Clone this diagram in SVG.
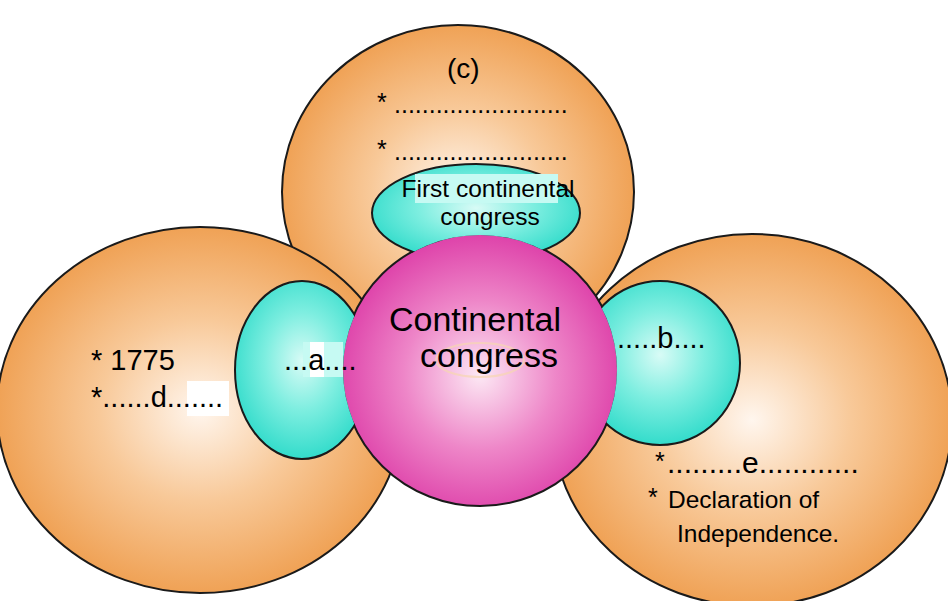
<svg xmlns="http://www.w3.org/2000/svg" width="948" height="601" viewBox="0 0 948 601">
  <defs>
    <radialGradient id="orangeGrad" cx="50%" cy="50%" r="55%">
      <stop offset="0" stop-color="#FFF6EE"/>
      <stop offset="0.45" stop-color="#F8C999"/>
      <stop offset="1" stop-color="#EE9A48"/>
    </radialGradient>
    <radialGradient id="cyanGrad" cx="50%" cy="45%" r="55%">
      <stop offset="0" stop-color="#D8FBF6"/>
      <stop offset="0.5" stop-color="#7EEEE0"/>
      <stop offset="1" stop-color="#33DCCB"/>
    </radialGradient>
    <radialGradient id="magentaGrad" cx="50%" cy="52%" r="55%">
      <stop offset="0" stop-color="#FCE8F4"/>
      <stop offset="0.5" stop-color="#EE86C8"/>
      <stop offset="1" stop-color="#DC3AA6"/>
    </radialGradient>
    <!-- keeps the cyan bubbles behind the central circle -->
    <mask id="behindCore" maskUnits="userSpaceOnUse" x="0" y="0" width="948" height="601">
      <rect width="948" height="601" fill="#fff"/>
      <ellipse cx="480" cy="370" rx="137" ry="135" fill="#000"/>
    </mask>
  </defs>
  <style>
    .outer { fill: url(#orangeGrad); stroke: #1a1a1a; stroke-width: 2; }
    .inner { fill: url(#cyanGrad); stroke: #1a1a1a; stroke-width: 2; }
    .core { fill: url(#magentaGrad); stroke: #1a1a1a; stroke-width: 2; }
    text { font-family: "Liberation Sans", Arial, sans-serif; fill: #000; }
    .t24 { font-size: 24.5px; }
    .t25 { font-size: 25px; }
    .t28 { font-size: 28px; }
    .t29 { font-size: 29px; }
    .t30 { font-size: 30px; }
    .t34 { font-size: 34px; }
  </style>

  <rect width="948" height="601" fill="#ffffff"/>

  <!-- outer orange circles -->
  <g id="node-c">
    <ellipse class="outer" cx="458" cy="192" rx="176" ry="167"/>
    <text class="t28" x="447" y="78">(c)</text>
    <text class="t25" x="377" y="111">*</text>
    <text class="t25" x="394" y="113">.........................</text>
    <text class="t25" x="377" y="158">*</text>
    <text class="t25" x="394" y="160">.........................</text>
  </g>
  <g id="node-left">
    <ellipse class="outer" cx="200" cy="410" rx="203" ry="183"/>
    <rect x="187" y="381" width="42" height="35" fill="#ffffff"/>
    <text class="t29" x="91" y="370">* 1775</text>
    <text class="t29" x="91" y="407">*......d.......</text>
  </g>
  <g id="node-right">
    <ellipse class="outer" cx="752" cy="420" rx="200" ry="186"/>
    <text class="t25" x="655" y="470">*</text>
    <text class="t30" x="667" y="473">.........e............</text>
    <text class="t25" x="648" y="506">*</text>
    <text class="t24" x="668" y="508">Declaration of</text>
    <text class="t24" x="677" y="542">Independence.</text>
  </g>

  <!-- central magenta circle -->
  <g id="node-center">
    <ellipse class="core" cx="480" cy="370" rx="138" ry="136"/>
    <ellipse cx="480" cy="360" rx="44" ry="17" fill="none" stroke="#F6D6B0" stroke-width="2" opacity="0.7"/>
    <text class="t34" x="475" y="331" text-anchor="middle">Continental</text>
    <text class="t34" x="489" y="367" text-anchor="middle">congress</text>
  </g>

  <!-- inner cyan circles, tucked behind the central circle -->
  <g id="node-first">
    <ellipse class="inner" cx="476" cy="213" rx="104" ry="49" mask="url(#behindCore)"/>
    <rect x="415" y="174" width="143" height="29" fill="#C6FAF3"/>
    <text class="t24" x="488" y="197" text-anchor="middle">First continental</text>
    <text class="t24" x="490" y="225" text-anchor="middle">congress</text>
  </g>
  <g id="node-a">
    <ellipse class="inner" cx="302" cy="370" rx="67" ry="89" mask="url(#behindCore)"/>
    <rect x="303" y="342" width="40" height="35" fill="#C6FAF3"/>
    <rect x="310" y="342" width="14" height="35" fill="#ffffff"/>
    <text class="t29" x="284" y="370">...a....</text>
  </g>
  <g id="node-b">
    <ellipse class="inner" cx="660" cy="363" rx="80" ry="82" mask="url(#behindCore)"/>
    <text class="t29" x="617" y="348">.....b....</text>
  </g>

  <g id="connectors"></g>
</svg>
